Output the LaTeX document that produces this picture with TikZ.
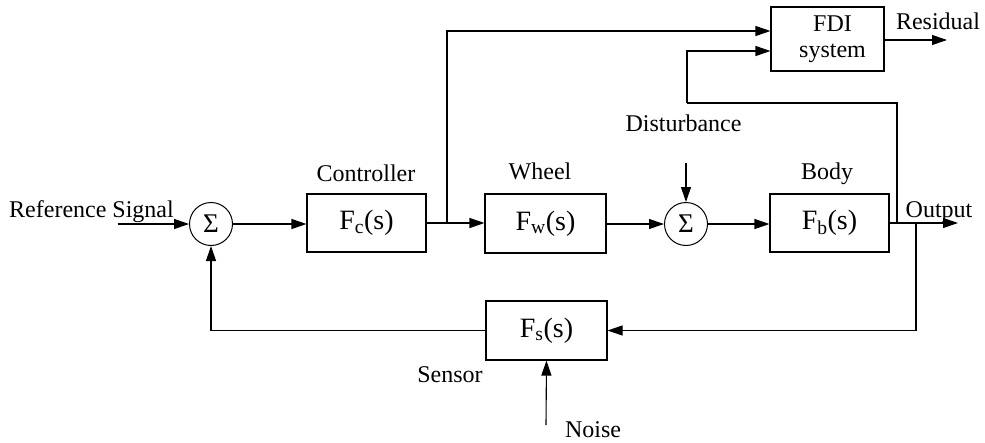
\documentclass[tikz,border=0pt]{standalone}
\usepackage{fontspec}
\setmainfont{Liberation Serif}
\usetikzlibrary{arrows.meta}
\begin{document}
\begin{tikzpicture}[x=1pt,y=-1pt,
  blk/.style={draw, line width=1.1pt, minimum width=119pt, minimum height=58pt, inner sep=0pt, font=\fontsize{28}{30}\selectfont},
  sumnode/.style={draw, circle, line width=1pt, minimum size=43pt, inner sep=0pt, font=\fontsize{27}{28}\selectfont},
  lbl/.style={font=\fontsize{24}{28}\selectfont, inner sep=0pt, anchor=base},
  arr/.style={-{Triangle[length=15pt,width=10pt]}, line width=1.1pt},
  ln/.style={line width=1.1pt}]
\path[use as bounding box] (0,0) rectangle (985,442);

% blocks
\node[sumnode] (s1) at (211,224) {Σ};
\node[blk] (fc) at (366.5,223) {F\textsubscript{c}(s)};
\node[blk, minimum width=121pt, minimum height=59pt] (fw) at (545.5,223.5) {F\textsubscript{w}(s)};
\node[sumnode] (s2) at (686,224) {Σ};
\node[blk] (fb) at (829.5,223) {F\textsubscript{b}(s)};
\node[blk, minimum width=113pt, minimum height=64pt, align=center, font=\fontsize{24}{26}\selectfont] (fdi) at (827.5,39) {\hspace*{10pt}FDI\\\hspace*{10pt}system};
\node[blk, minimum width=121pt, minimum height=59pt] (fs) at (546.5,330.5) {F\textsubscript{s}(s)};

% coordinates
\coordinate (ref) at (118,224);
\coordinate (b1) at (447,223);
\coordinate (dist) at (686,163);
\coordinate (b2) at (897,223);
\coordinate (b3) at (916,223);
\coordinate (out) at (958,223);
\coordinate (fb2) at (687,103);
\coordinate (res) at (947,40);
\coordinate (noise) at (546,425);

% connectors
\draw[arr] (ref) -- (s1.west);
\draw[arr] (s1.east) -- (fc.west |- s1.east);
\draw[arr] (fc.east) -- (fw.west |- fc.east);
\draw[arr] (b1) |- ([yshift=8pt]fdi.west);
\draw[arr] (fw.east |- s2.west) -- (s2.west);
\draw[arr] (dist) -- (s2.north);
\draw[arr] (s2.east) -- (fb.west |- s2.east);
\draw[arr] (fb.east) -- (out);
\draw[ln] (b2) |- (fb2);
\draw[arr] (fb2) |- ([yshift=-12pt]fdi.west);
\draw[arr] (fdi.east |- res) -- (res);
\draw[arr] (b3) |- (fs.east);
\draw[arr] (fs.west) -| (s1.south);
\draw[arr] (noise) -- (fs.south);

% labels
\node[lbl] (lref) at (91.5,217) {Reference Signal};
\node[lbl] (lctrl) at (366,181) {Controller};
\node[lbl] (lwheel) at (540,179) {Wheel};
\node[lbl] (ldist) at (683.5,131) {Disturbance};
\node[lbl] (lbody) at (827,179) {Body};
\node[lbl] (lout) at (939,217) {Output};
\node[lbl] (lres) at (938,29) {Residual};
\node[lbl] (lsens) at (450,382) {Sensor};
\node[lbl] (lnoise) at (593,437) {Noise};
\end{tikzpicture}
\end{document}
